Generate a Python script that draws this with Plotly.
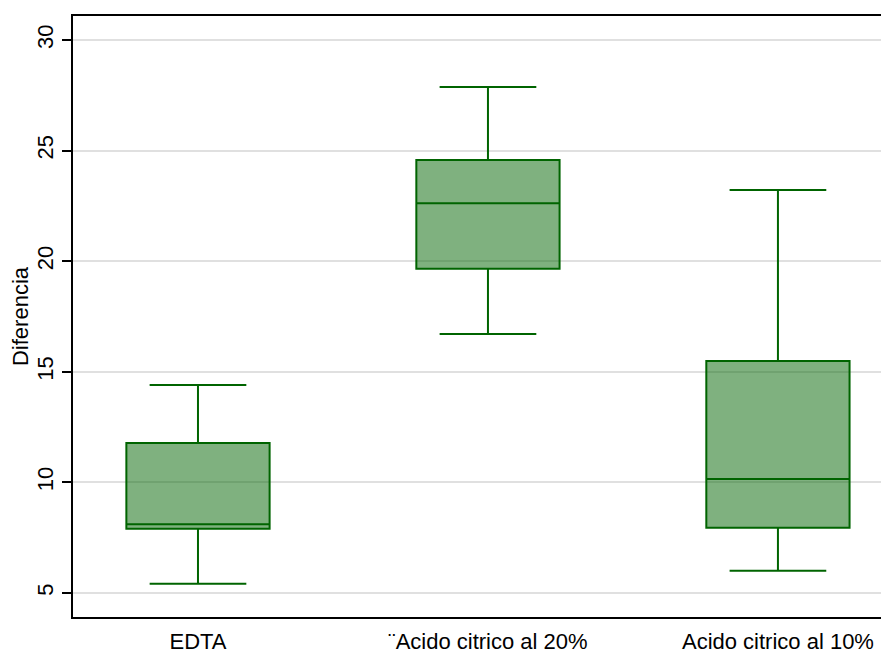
import plotly.graph_objects as go

categories = ["EDTA", "¨Acido citrico al 20%", "Acido citrico al 10%"]
lower_whisker = [5.42, 16.71, 6.01]
q1_values = [7.90, 19.66, 7.95]
median_values = [8.11, 22.62, 10.15]
q3_values = [11.78, 24.57, 15.49]
upper_whisker = [14.40, 27.87, 23.22]
y_ticks = [5, 10, 15, 20, 25, 30]

fig = go.Figure()
fig.add_trace(go.Box(
    x=categories,
    q1=q1_values,
    median=median_values,
    q3=q3_values,
    lowerfence=lower_whisker,
    upperfence=upper_whisker,
    width=0.494,
    whiskerwidth=0.675,
    fillcolor="rgba(0,100,0,0.5)",
    line=dict(color="#006400", width=2),
    showlegend=False,
    hoverinfo="skip",
))

fig.update_layout(
    width=881, height=641,
    margin=dict(l=65, r=0, t=8, b=32, autoexpand=False),
    paper_bgcolor="white", plot_bgcolor="white",
    font=dict(family="Liberation Sans, Arial, sans-serif", size=22, color="black"),
    xaxis=dict(
        type="category", range=[-0.431, 2.383],
        showline=True, linecolor="black", linewidth=2, mirror=True,
        showgrid=False, ticks="outside", ticklen=4, tickcolor="rgba(0,0,0,0)",
        zeroline=False, automargin=False,
        tickfont=dict(size=22),
    ),
    yaxis=dict(
        range=[3.915, 31.085], tickvals=y_ticks, ticktext=[str(v) for v in y_ticks],
        tickangle=-90,
        showline=True, linecolor="black", linewidth=1.5, mirror=False,
        showgrid=True, gridcolor="#e0e0e0", gridwidth=1.5,
        ticks="outside", ticklen=9, tickwidth=1.5, tickcolor="black",
        zeroline=False, automargin=False,
        tickfont=dict(size=22),
        title=dict(text="Diferencia", font=dict(size=22), standoff=5),
    ),
)

fig.write_html("out.html")
